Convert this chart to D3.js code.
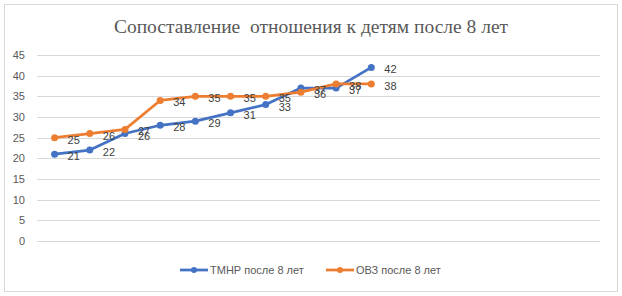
<!DOCTYPE html>
<html>
<head>
<meta charset="utf-8">
<script src="https://cdn.jsdelivr.net/npm/d3@7"></script>
<style>
  body { margin: 0; background: #fff; }
  #chart { width: 622px; height: 296px; }
</style>
</head>
<body>
<div id="chart"></div>
<script>
// 16 category slots on the axis, only the first 10 carry data
const categories = d3.range(1, 17);
const tmnrValues = [21, 22, 26, 28, 29, 31, 33, 37, 37, 42];
const ovzValues = [25, 26, 27, 34, 35, 35, 35, 36, 38, 38];
const yTicks = [0, 5, 10, 15, 20, 25, 30, 35, 40, 45];
const seriesNames = ['ТМНР после 8 лет', 'ОВЗ после 8 лет'];
const chartTitle = 'Сопоставление  отношения к детям после 8 лет';

const W = 622, H = 296;
const m = { top: 55, right: 22, bottom: 55, left: 37 };
const w = W - m.left - m.right, h = H - m.top - m.bottom;
const colors = ['#4472c4', '#ed7d31'];

const svg = d3.select('#chart').append('svg')
  .attr('width', W).attr('height', H);

// chart border
svg.append('rect').attr('x', 4.5).attr('y', 4.5).attr('width', W - 9).attr('height', H - 9)
  .attr('fill', '#fff').attr('stroke', '#d9d9d9');

// Title
svg.append('text').attr('x', W / 2).attr('y', 33)
  .attr('text-anchor', 'middle').attr('fill', '#595959')
  .attr('font-family', '"Liberation Serif", "Times New Roman", serif')
  .attr('font-size', '19.5px')
  .style('white-space', 'pre')
  .text(chartTitle);

const g = svg.append('g').attr('transform', `translate(${m.left},${m.top})`);

const x = d3.scaleBand().domain(categories).range([0, w]);
const y = d3.scaleLinear().domain([0, 45]).range([h, 0]);

// Grid lines
g.selectAll('.gy').data(yTicks).join('line')
  .attr('x1', 0).attr('x2', w)
  .attr('y1', d => Math.round(y(d)) + 0.5).attr('y2', d => Math.round(y(d)) + 0.5)
  .attr('stroke', '#d9d9d9').attr('stroke-width', 1);

// Y axis
g.append('g')
  .call(d3.axisLeft(y).tickValues(yTicks).tickSize(0).tickPadding(12))
  .call(a => a.select('.domain').remove())
  .selectAll('text')
  .style('fill', '#595959').style('font-size', '11px')
  .style('font-family', '"Liberation Sans", Arial, sans-serif');

const cx = i => x(categories[i]) + x.bandwidth() / 2;
const series = [tmnrValues, ovzValues];

series.forEach((vals, s) => {
  const line = d3.line().x((d, i) => cx(i)).y(d => y(d));
  g.append('path').datum(vals).attr('d', line)
    .attr('fill', 'none').attr('stroke', colors[s]).attr('stroke-width', 2.75)
    .attr('stroke-linejoin', 'round').attr('stroke-linecap', 'round');
  g.selectAll('.dot' + s).data(vals).join('circle')
    .attr('cx', (d, i) => cx(i)).attr('cy', d => y(d))
    .attr('r', 3.5).attr('fill', colors[s]);
});

// Data labels (right of points)
series.forEach((vals, s) => {
  g.selectAll('.lbl' + s).data(vals).join('text')
    .attr('x', (d, i) => cx(i) + 13).attr('y', d => y(d) + 6)
    .attr('fill', '#404040').attr('font-size', '11px')
    .attr('font-family', '"Liberation Sans", Arial, sans-serif')
    .text(d => d);
});

// Legend
const legend = svg.append('g').attr('transform', 'translate(0,270)');
const legendX = [180, 326];
seriesNames.forEach((name, s) => {
  const lg = legend.append('g').attr('transform', `translate(${legendX[s]},0)`);
  lg.append('line').attr('x1', 0).attr('x2', 28).attr('y1', 0).attr('y2', 0)
    .attr('stroke', colors[s]).attr('stroke-width', 2.75);
  lg.append('circle').attr('cx', 14).attr('cy', 0).attr('r', 3).attr('fill', colors[s]);
  lg.append('text').attr('x', 30).attr('y', 4)
    .attr('fill', '#595959').attr('font-size', '11px')
    .attr('font-family', '"Liberation Sans", Arial, sans-serif')
    .text(name);
});
</script>
</body>
</html>
